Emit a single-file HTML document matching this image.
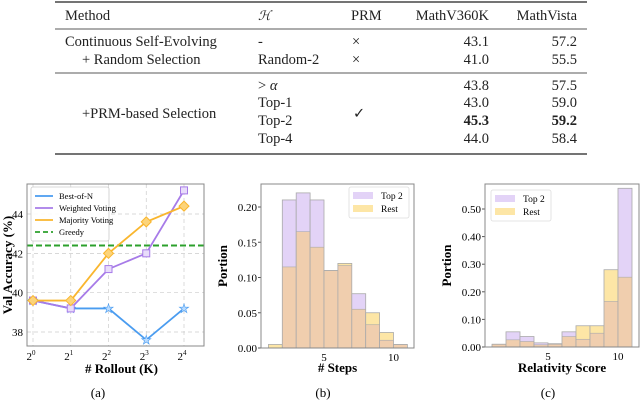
<!DOCTYPE html>
<html><head><meta charset="utf-8"><style>
body{margin:0;background:#fff;width:640px;height:403px;overflow:hidden;font-family:"Liberation Serif",serif;}
svg{position:absolute;left:0;top:0}
</style></head><body>
<svg width="640" height="403" font-family="Liberation Serif, serif">
<g font-size="14.5" fill="#222">
<line x1="55" x2="587" y1="2" y2="2" stroke="#222" stroke-width="1.3"/>
<line x1="55" x2="587" y1="29" y2="29" stroke="#222" stroke-width="0.8"/>
<line x1="55" x2="587" y1="73" y2="73" stroke="#222" stroke-width="0.8"/>
<line x1="55" x2="587" y1="154" y2="154" stroke="#222" stroke-width="1.3"/>
<text x="65" y="20">Method</text>
<text x="258" y="20" font-style="italic" font-family="DejaVu Serif, serif" font-size="13">ℋ</text>
<text x="351" y="20">PRM</text>
<text x="489" y="20" text-anchor="end">MathV360K</text>
<text x="577" y="20" text-anchor="end">MathVista</text>
<text x="65" y="46">Continuous Self-Evolving</text>
<text x="82" y="64">+ Random Selection</text>
<text x="258" y="46">-</text><text x="258" y="64">Random-2</text>
<text x="352" y="46">×</text><text x="352" y="64">×</text>
<text x="489" y="46" text-anchor="end">43.1</text><text x="577" y="46" text-anchor="end">57.2</text>
<text x="489" y="64" text-anchor="end">41.0</text><text x="577" y="64" text-anchor="end">55.5</text>
<text x="82" y="118">+PRM-based Selection</text>
<text x="258" y="90">&gt; <tspan font-style="italic">α</tspan></text>
<text x="258" y="107">Top-1</text><text x="258" y="125">Top-2</text><text x="258" y="143">Top-4</text>
<text x="353" y="118">✓</text>
<text x="489" y="90" text-anchor="end">43.8</text><text x="577" y="90" text-anchor="end">57.5</text>
<text x="489" y="107" text-anchor="end">43.0</text><text x="577" y="107" text-anchor="end">59.0</text>
<text x="489" y="125" text-anchor="end" font-weight="bold">45.3</text><text x="577" y="125" text-anchor="end" font-weight="bold">59.2</text>
<text x="489" y="143" text-anchor="end">44.0</text><text x="577" y="143" text-anchor="end">58.4</text>
</g>
<g id="ca"></g>
<g id="cb"></g>
<g id="cc"></g>
<text x="98" y="397" font-size="13" text-anchor="middle">(a)</text>
<text x="323" y="397" font-size="13" text-anchor="middle">(b)</text>
<text x="548" y="397" font-size="13" text-anchor="middle">(c)</text>
</svg>
<script>
const rolloutExp=[0,1,2,3,4];
const bestOfN=[39.6,39.2,39.2,37.6,39.2];
const weightedVoting=[39.6,39.2,41.2,42.0,45.2];
const majorityVoting=[39.6,39.6,42.0,43.6,44.4];
const greedy=42.4;
const accTicks=[38,40,42,44];
const stepsTop2=[0.0,0.21,0.22,0.21,0.11,0.117,0.077,0.033,0.011,0.005];
const stepsRest=[0.005,0.115,0.165,0.143,0.11,0.12,0.055,0.05,0.022,0.005];
const stepsTicks=[0,0.05,0.10,0.15,0.20];
const relTop2=[0.01,0.055,0.038,0.015,0.012,0.055,0.028,0.05,0.165,0.575];
const relRest=[0.01,0.026,0.02,0.008,0.01,0.038,0.077,0.077,0.28,0.253];
const relTicks=[0,0.10,0.20,0.30,0.40,0.50];
const binStart=1;
const NS='http://www.w3.org/2000/svg';
function mk(p,t,a,txt){const e=document.createElementNS(NS,t);for(const k in a)e.setAttribute(k,a[k]);if(txt!==undefined)e.textContent=txt;p.appendChild(e);return e;}
// chart a
(function(){
const g=document.getElementById('ca');
const L=27,R=204,T=184,B=346;
const x=v=>33+(184-33)*v/4, y=v=>214+(44-v)*19.67;
rolloutExp.forEach(v=>{const l=mk(g,'line',{x1:x(v),x2:x(v),y1:T,y2:B,stroke:'#ccc','stroke-dasharray':'4,3','stroke-width':0.7});
const t=mk(g,'text',{x:x(v)-2,y:B+14,'font-size':11,'text-anchor':'middle'},'2');mk(t,'tspan',{dy:-5,'font-size':7},String(v));});
accTicks.forEach(v=>{const l=mk(g,'line',{x1:L,x2:R,y1:y(v),y2:y(v),stroke:'#ccc','stroke-dasharray':'4,3','stroke-width':0.7});
const t=mk(g,'text',{x:L-4,y:y(v)+4,'font-size':11,'text-anchor':'end'},String(v));});
const gl=mk(g,'line',{x1:L,x2:R,y1:y(greedy),y2:y(greedy),stroke:'#2ca02c','stroke-width':2,'stroke-dasharray':'6,3'});
const series=[[bestOfN,'#4a9cf0','★','best-of-n'],[weightedVoting,'#a77be8','■','weighted-voting'],[majorityVoting,'#f9b62e','◆','majority-voting']];
series.forEach(([d,c,m,n])=>{const pl=mk(g,'polyline',{points:d.map((v,i)=>x(rolloutExp[i])+','+y(v)).join(' '),fill:'none',stroke:c,'stroke-width':1.8});
d.forEach((v,i)=>{let p;if(n==='weighted-voting')p=mk(g,'rect',{x:x(rolloutExp[i])-3.5,y:y(v)-3.5,width:7,height:7,fill:'#e8dcfa',stroke:c,'stroke-width':1});
else if(n==='majority-voting')p=mk(g,'path',{d:`M${x(rolloutExp[i])},${y(v)-5}l5,5l-5,5l-5,-5z`,fill:'#fcd47a',stroke:c,'stroke-width':1});
else p=mk(g,'text',{x:x(rolloutExp[i]),y:y(v)+4,'font-size':12,'text-anchor':'middle',fill:'#b9dbff',stroke:c,'stroke-width':0.6},'★');
});});
const fr=mk(g,'rect',{x:L,y:T,width:R-L,height:B-T,fill:'none',stroke:'#888','stroke-width':1});
const lg=mk(g,'g',{});
mk(lg,'rect',{x:31,y:187,width:78,height:54,fill:'#fff','fill-opacity':0.9,stroke:'#ccc','stroke-width':0.8,rx:2});
[['Best-of-N','#4a9cf0',0],['Weighted Voting','#a77be8',0],['Majority Voting','#f9b62e',0],['Greedy','#2ca02c',1]].forEach(([t,c,d],i)=>{const yy=196+i*12;
const ln=mk(lg,'line',{x1:35,x2:53,y1:yy,y2:yy,stroke:c,'stroke-width':1.8,'stroke-dasharray':d?'5,3':'none'});
const tx=mk(lg,'text',{x:59,y:yy+3,'font-size':8.5},t);});
const yt=mk(g,'text',{x:0,y:0,'font-size':13,'font-weight':'bold','text-anchor':'middle',transform:`translate(12,${(T+B)/2}) rotate(-90)`},'Val Accuracy (%)');
const xt=mk(g,'text',{x:(L+R)/2+6,y:373,'font-size':13,'font-weight':'bold','text-anchor':'middle'},'# Rollout (K)');
})();
function hist(id,top2,rest,ticks,L,R,T,B,x5,unit,y0,yScale,legX,legY,xlabel,fmt){
const g=document.getElementById(id);
const x=v=>x5+(v-5)*unit, y=v=>y0-v*yScale;
ticks.forEach(v=>{const t=mk(g,'text',{x:L-4,y:y(v)+4,'font-size':11,'text-anchor':'end'},v.toFixed(2));
mk(g,'line',{x1:L-3,x2:L,y1:y(v),y2:y(v),stroke:'#555'});});
[5,10].forEach(v=>{const t=mk(g,'text',{x:x(v),y:B+13,'font-size':11,'text-anchor':'middle'},String(v));});
top2.forEach((a,i)=>{const b=rest[i],x0=x(binStart+i),w=unit,lo=Math.min(a,b),hi=Math.max(a,b);
if(hi>lo){const r=mk(g,'rect',{x:x0,y:y(hi),width:w,height:y(lo)-y(hi),fill:a>b?'#e3d3f7':'#fde6a6'});}
if(lo>0){const r=mk(g,'rect',{x:x0,y:y(lo),width:w,height:y(0)-y(lo),fill:'#f0ceae'});}
if(hi>0){const o=mk(g,'rect',{x:x0,y:y(hi),width:w,height:y(0)-y(hi),fill:'none',stroke:'#aaa','stroke-width':0.8});}
if(lo>0)mk(g,'line',{x1:x0,x2:x0+w,y1:y(lo),y2:y(lo),stroke:'#aaa','stroke-width':0.6});});
const fr=mk(g,'rect',{x:L,y:T,width:R-L,height:B-T,fill:'none',stroke:'#888','stroke-width':1});
const lg=mk(g,'g',{});
mk(lg,'rect',{x:legX,y:legY,width:60,height:31,fill:'#fff',stroke:'#ddd','stroke-width':0.8,rx:2});
[['Top 2','#e3d3f7'],['Rest','#fde6a6']].forEach(([t,c],i)=>{const yy=legY+5+i*13;
const s=mk(lg,'rect',{x:legX+4,y:yy,width:20,height:7,fill:c});
const tx=mk(lg,'text',{x:legX+32,y:yy+7,'font-size':9.5},t);});
const yt=mk(g,'text',{x:0,y:0,'font-size':13,'font-weight':'bold','text-anchor':'middle',transform:`translate(${L-34},${(T+B)/2}) rotate(-90)`},'Portion');
const xt=mk(g,'text',{x:(L+R)/2,y:372,'font-size':13,'font-weight':'bold','text-anchor':'middle'},xlabel);
}
hist('cb',stepsTop2,stepsRest,stepsTicks,261,414,184,348,324,13.9,348,705,349,187,'# Steps');
hist('cc',relTop2,relRest,relTicks,485,639,184,347,548,14,347,276,491,190,'Relativity Score');
</script>
</body></html>
